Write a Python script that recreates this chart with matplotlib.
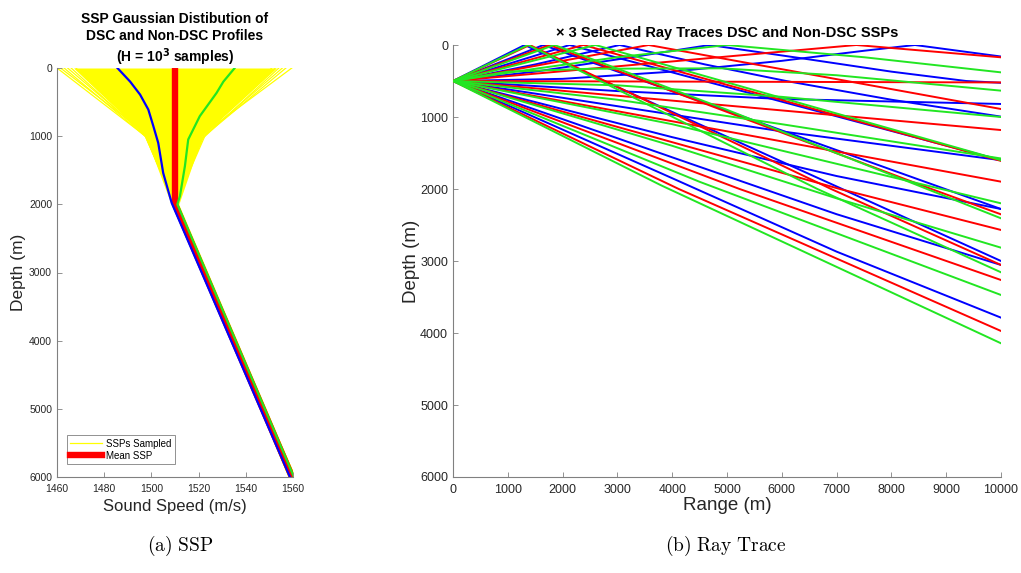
import matplotlib
matplotlib.use('Agg')
import matplotlib.pyplot as plt

plt.rcParams['font.family'] = ['Liberation Sans', 'DejaVu Sans']

# ---------------- Left panel data (sound speed profiles) ----------------
mean_depth = [0, 2000, 6000]
mean_speed = [1510, 1510, 1559.6]

blue_depth = [0, 200, 390, 610, 850, 1100, 1540, 1980, 6000]
blue_speed = [1485.6, 1491.0, 1495.2, 1498.7, 1500.8, 1502.9, 1505.0, 1508.6, 1558.7]

green_depth = [0, 200, 366, 707, 1049, 1439, 1878, 2000, 6000]
green_speed = [1535.3, 1530.5, 1527.6, 1520.5, 1515.6, 1514.2, 1512.1, 1511.0, 1560.4]

# dense core of the sampled SSPs (envelope)
env_depth = [0, 1000, 2000, 6000]
env_left = [1467.0, 1497.5, 1508.4, 1558.2]
env_right = [1553.0, 1521.5, 1511.6, 1561.0]

# individual fringe samples: surface speed, speed at kink, kink depth
yel_surface = [1460.0, 1461.5, 1463.0, 1464.5, 1466.0, 1468.0,
               1551.0, 1552.5, 1554.0, 1555.5, 1557.0, 1559.5]
yel_kink_speed = [1497.5, 1496.5, 1498.0, 1497.0, 1499.0, 1498.5,
                  1521.0, 1522.5, 1521.5, 1523.0, 1522.0, 1521.0]
yel_kink_depth = [1000, 930, 1020, 960, 1050, 980,
                  1000, 950, 1040, 970, 1010, 990]
yel_bottom_speed = [1558.4, 1558.3, 1558.5, 1558.4, 1558.6, 1558.5,
                    1560.6, 1560.8, 1560.7, 1560.9, 1560.6, 1560.8]

# ---------------- Right panel data (ray traces) ----------------
red_ray_r = [[0, 1400, 6900, 10000], [0, 1760, 8730, 10000], [0, 2380, 10000],
             [0, 3570, 10000], [0, 7360, 10000], [0, 10000], [0, 10000],
             [0, 10000], [0, 7060, 10000], [0, 5230, 10000], [0, 4120, 10000]]
red_ray_z = [[500, 0, 2000, 3055], [500, 0, 2000, 2352], [500, 0, 1610],
             [500, 0, 889], [500, 0, 171], [500, 520], [500, 1181],
             [500, 1898], [500, 2000, 2569], [500, 2000, 3264], [500, 2000, 3972]]

green_ray_r = [[0, 1370, 6650, 10000], [0, 1850, 5000, 10000], [0, 2600, 10000],
               [0, 1500, 3000, 5000, 7500, 10000],
               [0, 1000, 2500, 4900, 7000, 10000],
               [0, 3000, 6000, 10000], [0, 3000, 6000, 10000],
               [0, 4000, 7000, 10000], [0, 4000, 7000, 10000],
               [0, 4500, 10000], [0, 3800, 10000]]
green_ray_z = [[500, 0, 2000, 3157], [500, 0, 900, 2407], [500, 0, 1600],
               [500, 330, 170, 0, 170, 380],
               [500, 370, 330, 324, 420, 634],
               [500, 560, 720, 1000], [500, 760, 1100, 1576],
               [500, 1100, 1650, 2199], [500, 1400, 2130, 2815],
               [500, 1900, 3472], [500, 1950, 4143]]

blue_ray_r = [[0, 1307, 10000], [0, 1650, 10000], [0, 2128, 10000],
              [0, 1500, 3040, 4600, 6080, 8000, 10000],
              [0, 1500, 3000, 4682, 6500, 8000, 9364, 10000],
              [0, 2000, 4000, 6000, 7500, 8430, 10000],
              [0, 3000, 6000, 10000], [0, 3000, 6000, 10000],
              [0, 4000, 7000, 10000], [0, 4000, 7000, 10000],
              [0, 4000, 7000, 10000]]
blue_ray_z = [[500, 0, 3000], [500, 0, 2278], [500, 0, 1600],
              [500, 270, 0, 270, 500, 760, 995],
              [500, 370, 200, 0, 200, 370, 500, 525],
              [500, 470, 370, 220, 80, 0, 160],
              [500, 640, 750, 819], [500, 850, 1200, 1600],
              [500, 1280, 1820, 2278], [500, 1560, 2350, 3055],
              [500, 1850, 2870, 3787]]

RED = '#FF0000'
GREEN = '#22E622'
BLUE = '#0000FF'
YELLOW = '#FFFF00'
AXC = '#808080'
TXC = '#262626'

fig = plt.figure(figsize=(10.21, 5.73), dpi=100)
ax1 = fig.add_axes([57 / 1021, 1 - 477 / 573, 236 / 1021, 409 / 573])
ax2 = fig.add_axes([453 / 1021, 1 - 477 / 573, 548 / 1021, 432 / 573])

# ----- left panel -----
ax1.fill_betweenx(env_depth, env_left, env_right, color=YELLOW, lw=0, zorder=1)
for i in range(len(yel_surface)):
    ax1.plot([yel_surface[i], yel_kink_speed[i], 1510, yel_bottom_speed[i]],
             [0, yel_kink_depth[i], 2000, 6000], color=YELLOW, lw=0.9, zorder=1,
             label='SSPs Sampled' if i == 0 else None)
ax1.plot(mean_speed, mean_depth, color=RED, lw=4.6, zorder=2, label='Mean SSP')
ax1.plot(blue_speed, blue_depth, color=BLUE, lw=1.6, zorder=3)
ax1.plot(green_speed, green_depth, color=GREEN, lw=1.6, zorder=3)

ax1.set_xlim(1460, 1560)
ax1.set_ylim(6000, 0)
ax1.set_xticks(range(1460, 1561, 20))
ax1.set_yticks(range(0, 6001, 1000))
ax1.set_title('SSP Gaussian Distibution of\nDSC and Non-DSC Profiles\n(H = 10$^{\\mathbf{3}}$ samples)',
              fontsize=10, fontweight='bold', pad=4, linespacing=1.25)
ax1.set_xlabel('Sound Speed (m/s)', fontsize=12, color=TXC, labelpad=4)
ax1.set_ylabel('Depth (m)', fontsize=12.5, color=TXC, labelpad=2)
leg = ax1.legend(loc='lower left', fontsize=7, frameon=True, fancybox=False,
                 edgecolor=AXC, framealpha=1, handlelength=3.3,
                 borderpad=0.35, labelspacing=0.2, handletextpad=0.4,
                 bbox_to_anchor=(0.02, 0.02))
leg.get_frame().set_linewidth(0.6)

# ----- right panel -----
for rs, zs in zip(blue_ray_r, blue_ray_z):
    ax2.plot(rs, zs, color=BLUE, lw=1.4, zorder=2)
for rs, zs in zip(red_ray_r, red_ray_z):
    ax2.plot(rs, zs, color=RED, lw=1.4, zorder=3)
for rs, zs in zip(green_ray_r, green_ray_z):
    ax2.plot(rs, zs, color=GREEN, lw=1.4, zorder=4)

ax2.set_xlim(0, 10000)
ax2.set_ylim(6000, 0)
ax2.set_xticks(range(0, 10001, 1000))
ax2.set_yticks(range(0, 6001, 1000))
ax2.set_title('\u00d7 3 Selected Ray Traces DSC and Non-DSC SSPs',
              fontsize=10.5, fontweight='bold', pad=6)
ax2.set_xlabel('Range (m)', fontsize=13.5, color=TXC, labelpad=1)
ax2.set_ylabel('Depth (m)', fontsize=13.5, color=TXC, labelpad=0)

for ax, ls in ((ax1, 7.5), (ax2, 9)):
    for s in ('top', 'right'):
        ax.spines[s].set_visible(False)
    for s in ('left', 'bottom'):
        ax.spines[s].set_color(AXC)
        ax.spines[s].set_linewidth(0.8)
    ax.tick_params(direction='in', length=3.5, width=0.6, color=AXC,
                   labelcolor=TXC, labelsize=ls)
ax1.tick_params(axis='x', pad=5)
ax2.tick_params(axis='x', pad=5)

fig.text(180 / 1021, 1 - 546 / 573, r'$\mathrm{(a)\ SSP}$', math_fontfamily='cm',
         fontsize=14, ha='center', va='center')
fig.text(726 / 1021, 1 - 546 / 573, r'$\mathrm{(b)\ Ray\ Trace}$', math_fontfamily='cm',
         fontsize=14, ha='center', va='center')

fig.savefig('out.png', dpi=100)
